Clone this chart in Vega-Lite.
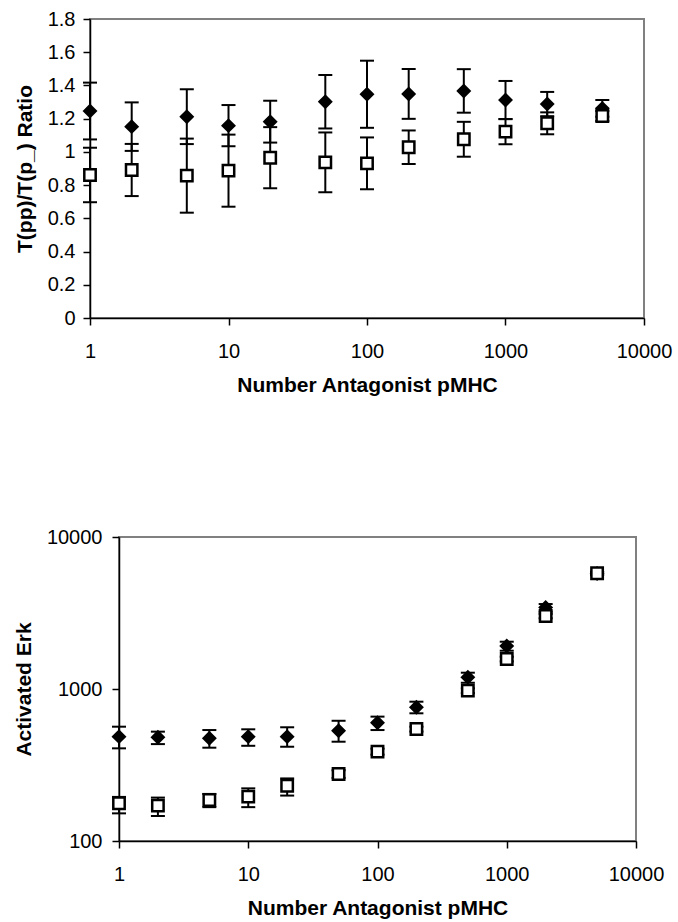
{
  "$schema": "https://vega.github.io/schema/vega-lite/v6.json",
  "background": "white",
  "padding": {"left": 12, "top": 8, "right": 5, "bottom": 2},
  "spacing": 130,
  "datasets": {
    "ratio": [
      {"n": 1, "series": "A", "value": 1.246, "lo": 1.075, "hi": 1.417},
      {"n": 2, "series": "A", "value": 1.152, "lo": 1.006, "hi": 1.298},
      {"n": 5, "series": "A", "value": 1.212, "lo": 1.047, "hi": 1.377},
      {"n": 10, "series": "A", "value": 1.158, "lo": 1.034, "hi": 1.282},
      {"n": 20, "series": "A", "value": 1.182, "lo": 1.056, "hi": 1.308},
      {"n": 50, "series": "A", "value": 1.302, "lo": 1.141, "hi": 1.463},
      {"n": 100, "series": "A", "value": 1.347, "lo": 1.145, "hi": 1.549},
      {"n": 200, "series": "A", "value": 1.349, "lo": 1.199, "hi": 1.499},
      {"n": 500, "series": "A", "value": 1.367, "lo": 1.236, "hi": 1.498},
      {"n": 1000, "series": "A", "value": 1.312, "lo": 1.197, "hi": 1.427},
      {"n": 2000, "series": "A", "value": 1.288, "lo": 1.215, "hi": 1.361},
      {"n": 5000, "series": "A", "value": 1.262, "lo": 1.212, "hi": 1.312},
      {"n": 1, "series": "B", "value": 0.861, "lo": 0.697, "hi": 1.025},
      {"n": 2, "series": "B", "value": 0.891, "lo": 0.734, "hi": 1.048},
      {"n": 5, "series": "B", "value": 0.857, "lo": 0.634, "hi": 1.08},
      {"n": 10, "series": "B", "value": 0.887, "lo": 0.67, "hi": 1.104},
      {"n": 20, "series": "B", "value": 0.965, "lo": 0.781, "hi": 1.149},
      {"n": 50, "series": "B", "value": 0.937, "lo": 0.757, "hi": 1.117},
      {"n": 100, "series": "B", "value": 0.931, "lo": 0.775, "hi": 1.087},
      {"n": 200, "series": "B", "value": 1.028, "lo": 0.927, "hi": 1.129},
      {"n": 500, "series": "B", "value": 1.076, "lo": 0.971, "hi": 1.181},
      {"n": 1000, "series": "B", "value": 1.122, "lo": 1.046, "hi": 1.198},
      {"n": 2000, "series": "B", "value": 1.172, "lo": 1.106, "hi": 1.238},
      {"n": 5000, "series": "B", "value": 1.216, "lo": 1.186, "hi": 1.246}
    ],
    "erk": [
      {"n": 1, "series": "A", "value": 486, "lo": 407, "hi": 565},
      {"n": 2, "series": "A", "value": 481, "lo": 434, "hi": 524},
      {"n": 5, "series": "A", "value": 474, "lo": 411, "hi": 537},
      {"n": 10, "series": "A", "value": 486, "lo": 423, "hi": 543},
      {"n": 20, "series": "A", "value": 486, "lo": 417, "hi": 560},
      {"n": 50, "series": "A", "value": 532, "lo": 450, "hi": 618},
      {"n": 100, "series": "A", "value": 600, "lo": 537, "hi": 658},
      {"n": 200, "series": "A", "value": 758, "lo": 692, "hi": 825},
      {"n": 500, "series": "A", "value": 1194, "lo": 1099, "hi": 1280},
      {"n": 1000, "series": "A", "value": 1918, "lo": 1786, "hi": 2047},
      {"n": 2000, "series": "A", "value": 3443, "lo": 3228, "hi": 3622},
      {"n": 5000, "series": "A", "value": 5750, "lo": 5600, "hi": 5900},
      {"n": 1, "series": "B", "value": 177, "lo": 152, "hi": 195},
      {"n": 2, "series": "B", "value": 171, "lo": 146, "hi": 193},
      {"n": 5, "series": "B", "value": 186, "lo": 167, "hi": 204},
      {"n": 10, "series": "B", "value": 196, "lo": 167, "hi": 222},
      {"n": 20, "series": "B", "value": 231, "lo": 199, "hi": 258},
      {"n": 50, "series": "B", "value": 276, "lo": 260, "hi": 292},
      {"n": 100, "series": "B", "value": 387, "lo": 370, "hi": 405},
      {"n": 200, "series": "B", "value": 545, "lo": 525, "hi": 565},
      {"n": 500, "series": "B", "value": 975, "lo": 940, "hi": 1010},
      {"n": 1000, "series": "B", "value": 1574, "lo": 1520, "hi": 1630},
      {"n": 2000, "series": "B", "value": 3021, "lo": 2920, "hi": 3120},
      {"n": 5000, "series": "B", "value": 5781, "lo": 5650, "hi": 5910}
    ],
    "blank": [{"k": 0}]
  },
  "vconcat": [
    {
      "width": 554,
      "height": 299,
      "data": {"name": "ratio"},
      "encoding": {
        "x": {"field": "n", "type": "quantitative", "scale": {"type": "log", "domain": [1, 10000]},
              "axis": {"values": [1, 10, 100, 1000, 10000], "tickCount": 20, "format": "d", "title": "Number Antagonist pMHC"}}
      },
      "layer": [
        {"mark": {"type": "rule", "color": "black", "strokeWidth": 2},
         "encoding": {"y": {"field": "lo", "type": "quantitative"}, "y2": {"field": "hi"}}},
        {"mark": {"type": "tick", "orient": "horizontal", "color": "black", "size": 14, "thickness": 2, "opacity": 1},
         "encoding": {"y": {"field": "lo", "type": "quantitative"}}},
        {"mark": {"type": "tick", "orient": "horizontal", "color": "black", "size": 14, "thickness": 2, "opacity": 1},
         "encoding": {"y": {"field": "hi", "type": "quantitative"}}},
        {"mark": {"type": "point", "size": 130, "stroke": "black", "strokeWidth": 2.5, "opacity": 1, "filled": true},
         "encoding": {
           "y": {"field": "value", "type": "quantitative", "scale": {"domain": [0, 1.8]},
                 "axis": {"values": [0, 0.2, 0.4, 0.6, 0.8, 1, 1.2, 1.4, 1.6, 1.8], "tickCount": 20, "format": "~g", "title": "T(pp)/T(p_) Ratio", "labelPadding": 8, "labelOverlap": false}},
           "shape": {"field": "series", "type": "nominal", "scale": {"domain": ["A", "B"], "range": ["diamond", "square"]}, "legend": null},
           "fill": {"field": "series", "type": "nominal", "scale": {"domain": ["A", "B"], "range": ["black", "white"]}, "legend": null}
         }}
      ]
    },
    {
      "bounds": "flush",
      "spacing": 28,
      "hconcat": [
        {
          "width": 1,
          "height": 1,
          "view": {"stroke": null},
          "data": {"name": "blank"},
          "mark": {"type": "point", "opacity": 0},
          "encoding": {}
        },
        {
          "width": 517,
          "height": 304,
          "data": {"name": "erk"},
          "encoding": {
            "x": {"field": "n", "type": "quantitative", "scale": {"type": "log", "domain": [1, 10000]},
                  "axis": {"values": [1, 10, 100, 1000, 10000], "tickCount": 20, "format": "d", "title": "Number Antagonist pMHC"}}
          },
          "layer": [
            {"mark": {"type": "rule", "color": "black", "strokeWidth": 2},
             "encoding": {"y": {"field": "lo", "type": "quantitative"}, "y2": {"field": "hi"}}},
            {"mark": {"type": "tick", "orient": "horizontal", "color": "black", "size": 14, "thickness": 2, "opacity": 1},
             "encoding": {"y": {"field": "lo", "type": "quantitative"}}},
            {"mark": {"type": "tick", "orient": "horizontal", "color": "black", "size": 14, "thickness": 2, "opacity": 1},
             "encoding": {"y": {"field": "hi", "type": "quantitative"}}},
            {"mark": {"type": "point", "size": 130, "stroke": "black", "strokeWidth": 2.5, "opacity": 1, "filled": true},
             "encoding": {
               "y": {"field": "value", "type": "quantitative", "scale": {"type": "log", "domain": [100, 10000]},
                     "axis": {"values": [100, 1000, 10000], "tickCount": 20, "format": "d", "title": "Activated Erk", "labelPadding": 10}},
               "shape": {"field": "series", "type": "nominal", "scale": {"domain": ["A", "B"], "range": ["diamond", "square"]}, "legend": null},
               "fill": {"field": "series", "type": "nominal", "scale": {"domain": ["A", "B"], "range": ["black", "white"]}, "legend": null}
             }}
          ]
        }
      ]
    }
  ],
  "config": {
    "view": {"stroke": "#808080", "strokeWidth": 2},
    "axis": {
      "grid": false,
      "domainColor": "black",
      "domainWidth": 1.5,
      "tickColor": "black",
      "tickWidth": 1.5,
      "tickSize": 7,
      "labelOverlap": false,
      "labelFlush": false,
      "labelFont": "Liberation Sans",
      "labelFontSize": 20,
      "labelColor": "black",
      "titleFont": "Liberation Sans",
      "titleFontSize": 21,
      "titleFontWeight": "bold",
      "titleColor": "black"
    },
    "axisX": {"labelPadding": 16, "titlePadding": 13},
    "axisY": {"titlePadding": 12}
  }
}
